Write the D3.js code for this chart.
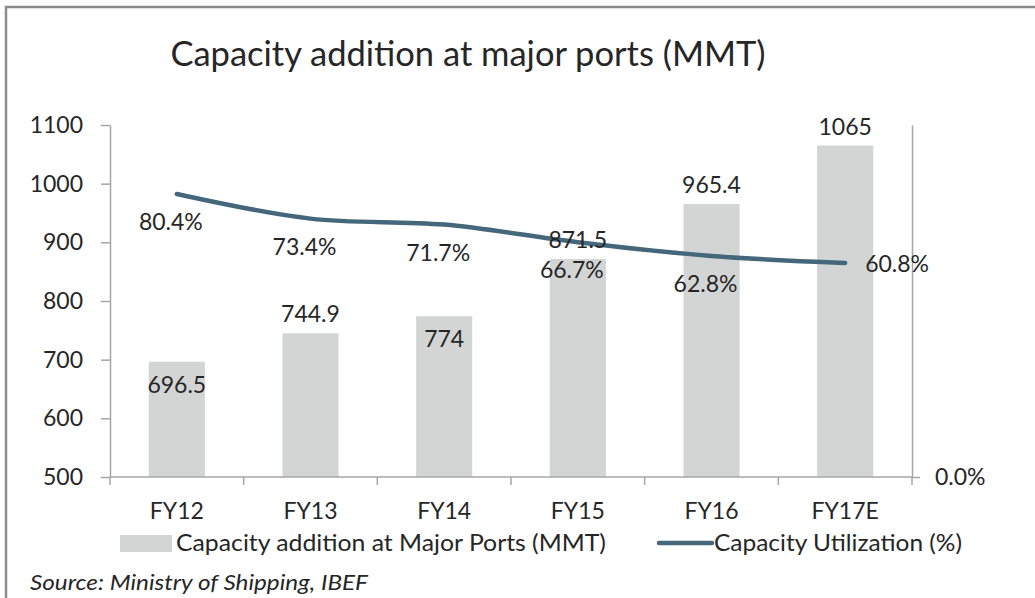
<!DOCTYPE html>
<html>
<head>
<meta charset="utf-8">
<script src="https://cdn.jsdelivr.net/npm/d3@7"></script>
<style>
  body { margin: 0; background: #fff; }
  text { font-family: Lato, "Open Sans", sans-serif; fill: #262626; }
</style>
</head>
<body>
<div id="chart"></div>
<script>
const categories = ['FY12', 'FY13', 'FY14', 'FY15', 'FY16', 'FY17E']
const capacity = [696.5, 744.9, 774, 871.5, 965.4, 1065]
const utilization = [80.4, 73.4, 71.7, 66.7, 62.8, 60.8]
const capacityTicks = [500, 600, 700, 800, 900, 1000, 1100]
const utilTicks = [0]
// where each bar label sits: inside the bar top or above it
const barLabelSide = ['in', 'out', 'in', 'out', 'out', 'out']

const W = 1035, H = 598
const m = { left: 110, right: 123, top: 125, bottom: 121 }
const fs = '23px'

const svg = d3.select('#chart').append('svg')
    .attr('width', W)
    .attr('height', H)

// frame
svg.append('path')
    .attr('d', `M6,${H} V7 H${W}`)
    .attr('fill', 'none')
    .attr('stroke', '#8c8c8c')
    .attr('stroke-width', 2.5)

const x = d3.scaleBand()
    .domain(categories)
    .range([m.left, W - m.right])
    .paddingInner(0.58)
    .paddingOuter(0.29)

const xOuter = d3.scaleBand()
    .domain(categories)
    .range([m.left, W - m.right])

const y = d3.scaleLinear()
    .domain([500, 1100])
    .range([H - m.bottom, m.top])

const y2 = d3.scaleLinear()
    .domain([0, 100])
    .range([H - m.bottom, m.top])

const axisColor = '#a6a6a6'

// bars
svg.selectAll('rect.bar')
    .data(capacity)
    .enter()
    .append('rect')
    .attr('class', 'bar')
    .attr('x', (d, i) => x(categories[i]))
    .attr('width', x.bandwidth())
    .attr('y', d => y(d))
    .attr('height', d => y(500) - y(d))
    .attr('fill', '#d2d5d4')

// left axis
const gy = svg.append('g')
    .attr('transform', `translate(${m.left},0)`)
    .call(d3.axisLeft(y).tickValues(capacityTicks).tickFormat(d3.format('d'))
        .tickSize(9).tickPadding(18).tickSizeOuter(0))
gy.select('.domain').attr('stroke', axisColor).attr('stroke-width', 1.5)
gy.selectAll('.tick line').attr('stroke', axisColor).attr('stroke-width', 1.5)
gy.selectAll('.tick text').style('font-size', fs).attr('fill', '#262626')

// right axis
const gy2 = svg.append('g')
    .attr('transform', `translate(${W - m.right},0)`)
    .call(d3.axisRight(y2).tickValues(utilTicks).tickFormat(d => d3.format('.1f')(d) + '%')
        .tickSize(8).tickPadding(15).tickSizeOuter(0))
gy2.select('.domain').attr('stroke', axisColor).attr('stroke-width', 1.5)
gy2.selectAll('.tick line').attr('stroke', axisColor).attr('stroke-width', 1.5)
gy2.selectAll('.tick text').style('font-size', fs).attr('fill', '#262626')

// bottom axis with ticks between categories
const bottomY = H - m.bottom
svg.append('line')
    .attr('x1', m.left).attr('x2', W - m.right)
    .attr('y1', bottomY).attr('y2', bottomY)
    .attr('stroke', axisColor).attr('stroke-width', 1.5)
const bounds = categories.map(c => xOuter(c)).concat([W - m.right])
svg.selectAll('line.xtick')
    .data(bounds)
    .enter()
    .append('line')
    .attr('class', 'xtick')
    .attr('x1', d => d).attr('x2', d => d)
    .attr('y1', bottomY).attr('y2', bottomY + 8)
    .attr('stroke', axisColor).attr('stroke-width', 1.5)
svg.selectAll('text.xlabel')
    .data(categories)
    .enter()
    .append('text')
    .attr('class', 'xlabel')
    .attr('x', d => xOuter(d) + xOuter.bandwidth() / 2)
    .attr('y', bottomY + 42)
    .attr('text-anchor', 'middle')
    .style('font-size', fs)
    .text(d => d)

// utilization line
const cx = i => xOuter(categories[i]) + xOuter.bandwidth() / 2
const line = d3.line()
    .x((d, i) => cx(i))
    .y(d => y2(d))
    .curve(d3.curveCatmullRom.alpha(0.5))
svg.append('path')
    .datum(utilization)
    .attr('d', line)
    .attr('fill', 'none')
    .attr('stroke', '#44677b')
    .attr('stroke-width', 4.5)
    .attr('stroke-linecap', 'round')

// bar labels
svg.selectAll('text.barlabel')
    .data(capacity)
    .enter()
    .append('text')
    .attr('class', 'barlabel')
    .attr('x', (d, i) => cx(i))
    .attr('y', (d, i) => barLabelSide[i] === 'in' ? y(d) + 31 : y(d) - 11)
    .attr('text-anchor', 'middle')
    .style('font-size', fs)
    .text(d => d)

// line labels
svg.selectAll('text.linelabel')
    .data(utilization)
    .enter()
    .append('text')
    .attr('class', 'linelabel')
    .attr('x', (d, i) => i === utilization.length - 1 ? cx(i) + 20 : cx(i) - 6)
    .attr('y', (d, i) => i === utilization.length - 1 ? y2(d) + 9 : y2(d) + 36)
    .attr('text-anchor', (d, i) => i === utilization.length - 1 ? 'start' : 'middle')
    .style('font-size', fs)
    .text(d => d3.format('.1f')(d) + '%')

// title
svg.append('text')
    .attr('x', 468)
    .attr('y', 66)
    .attr('text-anchor', 'middle')
    .style('font-size', '34.5px')
    .text('Capacity addition at major ports (MMT)')

// legend
const leg = svg.append('g').attr('transform', `translate(0,${H - 55})`)
leg.append('rect')
    .attr('x', 120).attr('y', -8).attr('width', 52).attr('height', 17)
    .attr('fill', '#d2d5d4')
leg.append('text')
    .attr('x', 176).attr('y', 8)
    .attr('textLength', 430).attr('lengthAdjust', 'spacingAndGlyphs')
    .style('font-size', fs)
    .text('Capacity addition at Major Ports (MMT)')
leg.append('line')
    .attr('x1', 659).attr('x2', 712).attr('y1', 0).attr('y2', 0)
    .attr('stroke', '#44677b').attr('stroke-width', 4.5).attr('stroke-linecap', 'round')
leg.append('text')
    .attr('x', 714).attr('y', 8)
    .attr('textLength', 248).attr('lengthAdjust', 'spacingAndGlyphs')
    .style('font-size', fs)
    .text('Capacity Utilization (%)')

// source
svg.append('text')
    .attr('x', 30).attr('y', 590)
    .attr('textLength', 338).attr('lengthAdjust', 'spacingAndGlyphs')
    .style('font-size', '22px')
    .style('font-style', 'italic')
    .text('Source: Ministry of Shipping, IBEF')
</script>
</body>
</html>
